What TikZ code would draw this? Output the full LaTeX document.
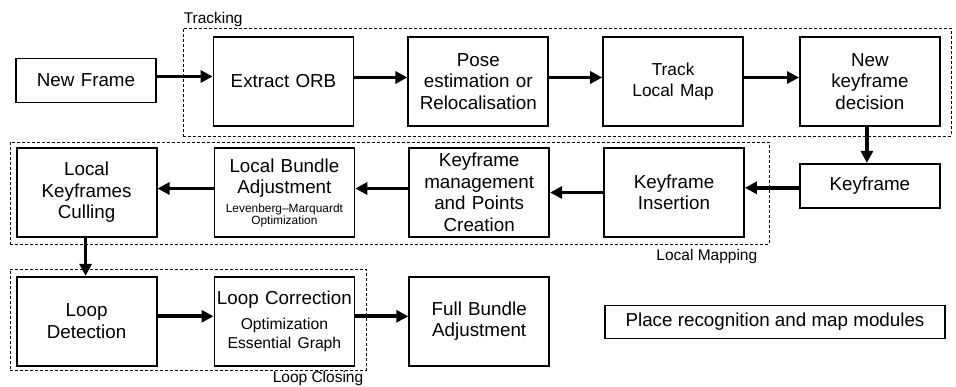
\documentclass[tikz,border=0pt]{standalone}
\usepackage{fontspec}
\setmainfont{Liberation Sans}
\usetikzlibrary{arrows.meta}
\usetikzlibrary{positioning}
\newcommand{\mainsize}{\fontsize{18.8}{21.5}\selectfont}
\newcommand{\midsize}{\fontsize{15.7}{19}\selectfont}
\newcommand{\tinysize}{\fontsize{11.9}{12}\selectfont}
\newcommand{\labelsize}{\fontsize{15.5}{18}\selectfont}
\tikzset{
	block/.style={rectangle, draw, line width=1.8pt, minimum width=140pt, minimum height=89pt, text width=136pt, inner sep=2pt, align=center, font=\mainsize},
	smallblock/.style={block, minimum height=44pt},
	note/.style={rectangle, draw, line width=1.8pt, minimum width=340pt, minimum height=33pt, inner sep=2pt, font=\mainsize},
	group/.style={rectangle, draw, line width=0.9pt, dash pattern=on 3pt off 2pt, inner sep=0pt},
	grouplabel/.style={font=\labelsize, inner sep=1pt},
	arrow/.style={draw, -{Triangle[length=12pt,width=12pt]}, line width=3.6pt}
}

\begin{document}
\begin{tikzpicture}[x=1pt, y=-1pt]
\useasboundingbox (0,0) rectangle (956,387);

\node[group, minimum width=768pt, minimum height=108pt] (tracking) at (567,82) {};
\node[grouplabel, anchor=south west] (trackinglabel) at (tracking.north west) {Tracking};

\node[group, minimum width=759pt, minimum height=102pt] (mapping) at (389.5,193) {};
\node[grouplabel, anchor=north east, xshift=-11pt, yshift=-4pt] (mappinglabel) at (mapping.south east) {Local Mapping};

\node[group, minimum width=356pt, minimum height=101pt] (closing) at (188,319.5) {};
\node[grouplabel, anchor=north east, xshift=-2pt] (closinglabel) at (closing.south east) {Loop Closing};

\node[smallblock] (newframe) at (86,80.5) {New Frame};

\node[block] (extract) at (283.5,81.5) {Extract ORB};
\node[block, right=53pt of extract] (pose) {Pose\\estimation or\\Relocalisation};
\node[block, right=53pt of pose] (track) {{\fontsize{17.3}{20.3}\selectfont Track\\Local Map\par}};
\node[block, right=55pt of track] (newkf) {New\\keyframe\\decision};

\node[smallblock, below=36pt of newkf] (keyframe) {Keyframe};

\node[block] (insertion) at (674,192.5) {Keyframe\\Insertion};
\node[block, left=53pt of insertion] (management) {Keyframe\\management\\and Points\\Creation};
\node[block, left=53pt of management] (lba) {Local Bundle\\Adjustment\par\vspace{5pt}{\tinysize Levenberg–Marquardt\\Optimization\par}};
\node[block, left=56pt of lba] (culling) {Local\\Keyframes\\Culling};

\node[block, below=38pt of culling] (detection) {Loop\\Detection};
\node[block, right=56pt of detection] (correction) {Loop Correction\par\vspace{6pt}{\midsize Optimization\\Essential Graph\par}};
\node[block, right=53pt of correction] (fullba) {Full Bundle\\Adjustment};

\node[note] (legend) at (775,322) {Place recognition and map modules};

\draw [arrow] ([yshift=4pt]newframe.east) -- ([yshift=4pt]newframe.east -| extract.west);
\draw [arrow] ([yshift=4pt]extract.east) -- ([yshift=4pt]pose.west);
\draw [arrow] ([yshift=4pt]pose.east) -- ([yshift=4pt]track.west);
\draw [arrow] ([yshift=4pt]track.east) -- ([yshift=4pt]newkf.west);
\draw [arrow] ([xshift=-3pt]newkf.south) -- ([xshift=-3pt]keyframe.north);
\draw [arrow] ([yshift=-2pt]keyframe.west) -- ([yshift=-2pt]keyframe.west -| insertion.east);
\draw [arrow] (insertion) -- (management);
\draw [arrow] ([yshift=4pt]management.west) -- ([yshift=4pt]lba.east);
\draw [arrow] ([yshift=4pt]lba.west) -- ([yshift=4pt]culling.east);
\draw [arrow] ([xshift=-1pt]culling.south) -- ([xshift=-1pt]detection.north);
\draw [arrow] ([yshift=5pt]detection.east) -- ([yshift=5pt]correction.west);
\draw [arrow] ([yshift=5pt]correction.east) -- ([yshift=5pt]correction.east -| fullba.west);

\end{tikzpicture}
\end{document}
